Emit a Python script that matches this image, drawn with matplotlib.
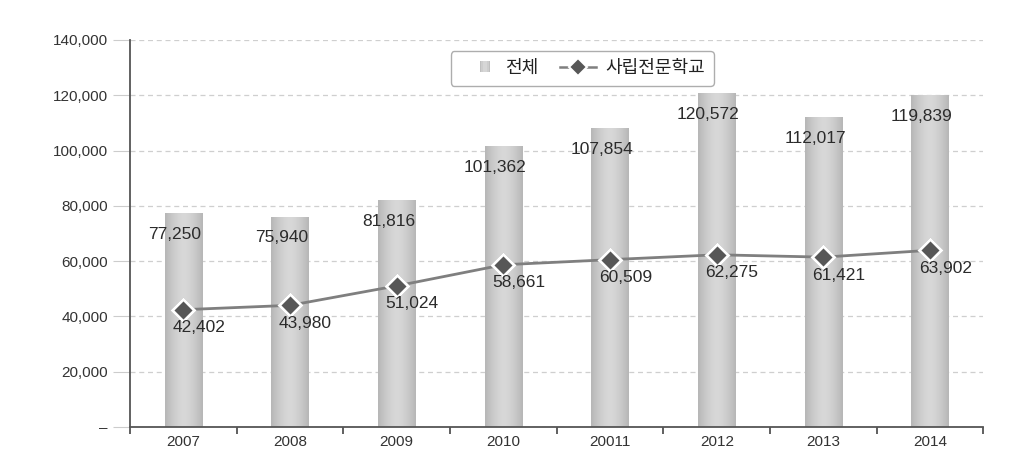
import numpy as np
import matplotlib
matplotlib.use("Agg")
import matplotlib.pyplot as plt
from matplotlib.ticker import FuncFormatter, FixedLocator
from matplotlib.lines import Line2D
from matplotlib.patches import Rectangle
from matplotlib.legend_handler import HandlerBase

plt.rcParams['font.family'] = ['Liberation Sans', 'Noto Sans CJK KR', 'DejaVu Sans']

years = ["2007", "2008", "2009", "2010", "20011", "2012", "2013", "2014"]
total = [77250, 75940, 81816, 101362, 107854, 120572, 112017, 119839]
private = [42402, 43980, 51024, 58661, 60509, 62275, 61421, 63902]
series_names = ["전체", "사립전문학교"]

fig = plt.figure(figsize=(10.32, 4.65), dpi=100)
ax = fig.add_axes([0.126, 0.082, 0.827, 0.832])

x = np.arange(len(years))
bars = ax.bar(x, total, width=0.35, color='none', edgecolor='none', zorder=2)


def shade(t):
    return 0.845 - 0.13 * t**1.6


# gradient fill for bars (cylinder-like)
grad = shade(np.abs(np.linspace(-1, 1, 64)))
grad_img = np.tile(grad, (2, 1))
for b in bars:
    x0, w, h = b.get_x(), b.get_width(), b.get_height()
    ax.imshow(grad_img, cmap='gray', vmin=0, vmax=1, aspect='auto',
              extent=(x0, x0 + w, 0, h), zorder=2, interpolation='bilinear')

ax.plot(x, private, color='#7f7f7f', lw=2, zorder=3)
ax.plot(x, private, ls='none', marker='D', ms=13, mfc='#9a9a9a', mec='none', zorder=4)
ax.plot(x, private, ls='none', marker='D', ms=11, mfc='#575757', mec='white', mew=2, zorder=5)

for xi, v in zip(x, total):
    ax.annotate(f"{v:,}", (xi, v), xytext=(-6, -15), textcoords='offset points',
                ha='center', va='center', fontsize=12.5, color='#2b2b2b', zorder=6)
for xi, v in zip(x, private):
    ax.annotate(f"{v:,}", (xi, v), xytext=(11, -13), textcoords='offset points',
                ha='center', va='center', fontsize=12.5, color='#2b2b2b', zorder=6)

ax.set_xlim(-0.5, len(years) - 0.5)
ax.set_ylim(0, 140000)
ax.set_yticks(np.arange(0, 140001, 20000))
ax.yaxis.set_major_formatter(FuncFormatter(lambda v, p: "–" if v == 0 else f"{int(v):,}"))
ax.set_xticks(x)
ax.set_xticklabels(years)
ax.xaxis.set_minor_locator(FixedLocator(np.arange(-0.5, len(years), 1.0)))
ax.tick_params(axis='x', which='major', length=0, labelsize=11, colors='#333333', pad=6)
ax.tick_params(axis='x', which='minor', length=5, width=1.2, color='#444444', direction='out')
ax.tick_params(axis='y', length=12, width=0.8, color='#cccccc', labelsize=11,
               labelcolor='#333333', pad=4)

ax.grid(axis='y', ls=(0, (4, 3)), color='#cfcfcf', lw=0.9, zorder=0)
ax.set_axisbelow(True)
for s in ['top', 'right']:
    ax.spines[s].set_visible(False)
ax.spines['left'].set_color('#555555')
ax.spines['left'].set_linewidth(1.3)
ax.spines['bottom'].set_color('#555555')
ax.spines['bottom'].set_linewidth(1.3)


class GradHandler(HandlerBase):
    def create_artists(self, legend, orig_handle, xd, yd, width, height, fontsize, trans):
        s = height * 0.85
        cx = xd + width - s - 4
        arts = []
        n = 6
        for i in range(n):
            t = abs((i + 0.5) / n * 2 - 1)
            c = shade(t)
            r = Rectangle((cx + i * s / n, yd + (height - s) / 2), s / n, s,
                          facecolor=(c, c, c), edgecolor='none', transform=trans)
            arts.append(r)
        return arts


h_bar = Rectangle((0, 0), 1, 1)
h_line = Line2D([], [], color='#7f7f7f', lw=1.8, marker='D', ms=9,
                mfc='#575757', mec='white', mew=1.5)
leg = ax.legend([h_bar, h_line], series_names, handler_map={Rectangle: GradHandler()},
                loc='upper center', bbox_to_anchor=(0.53, 0.995), ncol=2, frameon=True,
                fontsize=13, handlelength=2.0, columnspacing=1.2, handletextpad=0.5,
                borderpad=0.5, fancybox=True, labelcolor='#222222')
leg.get_frame().set_edgecolor('#999999')
leg.get_frame().set_linewidth(1.0)

fig.savefig("out.png", dpi=100, facecolor='white')
